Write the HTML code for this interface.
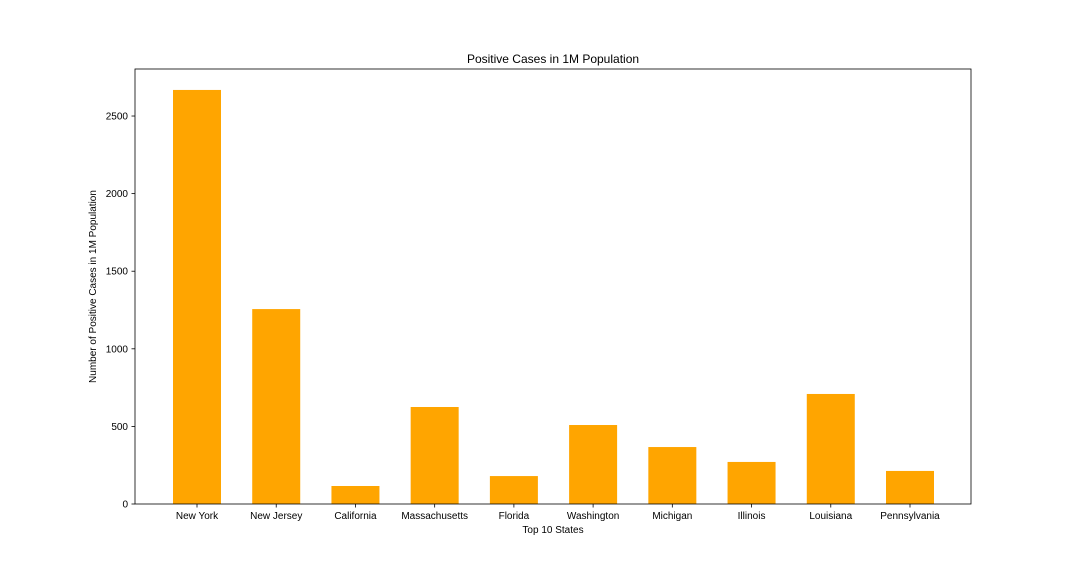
<!DOCTYPE html>
<html><head><meta charset="utf-8"><style>
body{margin:0;background:#fff;}
svg text{font-family:"Liberation Sans","DejaVu Sans",sans-serif;fill:#000;}
</style></head><body>
<svg width="1080" height="576" xmlns="http://www.w3.org/2000/svg">
<rect width="1080" height="576" fill="#fff"/>
<g id="plot"></g>
</svg>
<script>
const categories=["New York","New Jersey","California","Massachusetts","Florida","Washington","Michigan","Illinois","Louisiana","Pennsylvania"];
const values=[2668,1256,116,625,180,509,367,271,709,213];
const yTicks=[0,500,1000,1500,2000,2500];
const L=135,R=971,T=69,B=504;
const yMax=2803;
const x0=197,step=(910-197)/9,barW=48;
function xS(i){return x0+i*step;}
function yS(v){return B-(v/yMax)*(B-T);}
const ns="http://www.w3.org/2000/svg";
const g=document.getElementById('plot');
function mk(t,a,txt){const e=document.createElementNS(ns,t);for(const k in a)e.setAttribute(k,a[k]);if(txt!==undefined)e.textContent=txt;g.appendChild(e);return e;}
categories.forEach((c,i)=>{
  const r=mk('rect',{x:xS(i)-barW/2,y:yS(values[i]),width:barW,height:B-yS(values[i]),fill:'#FFA500'});
  
  
  const tk=mk('line',{x1:xS(i),x2:xS(i),y1:B,y2:B+3.5,stroke:'#000','stroke-width':0.8});
  
  
  const t=mk('text',{x:xS(i),y:B+15,'text-anchor':'middle','font-size':10},c);
  
  
});
yTicks.forEach(v=>{
  const tk=mk('line',{x1:L-3.5,x2:L,y1:yS(v),y2:yS(v),stroke:'#000','stroke-width':0.8});
  
  
  const t=mk('text',{x:L-7,y:yS(v)+3.5,'text-anchor':'end','font-size':10},String(v));
  
  
});
const fr=mk('rect',{x:L,y:T,width:R-L,height:B-T,fill:'none',stroke:'#000','stroke-width':0.8});


const ti=mk('text',{x:(L+R)/2,y:T-6,'text-anchor':'middle','font-size':12},'Positive Cases in 1M Population');


const xl=mk('text',{x:(L+R)/2,y:B+29,'text-anchor':'middle','font-size':10},'Top 10 States');


const yl=mk('text',{x:0,y:0,'text-anchor':'middle','font-size':10,transform:'translate(96,'+((T+B)/2)+') rotate(-90)'},'Number of Positive Cases in 1M Population');


</script>
</body></html>
